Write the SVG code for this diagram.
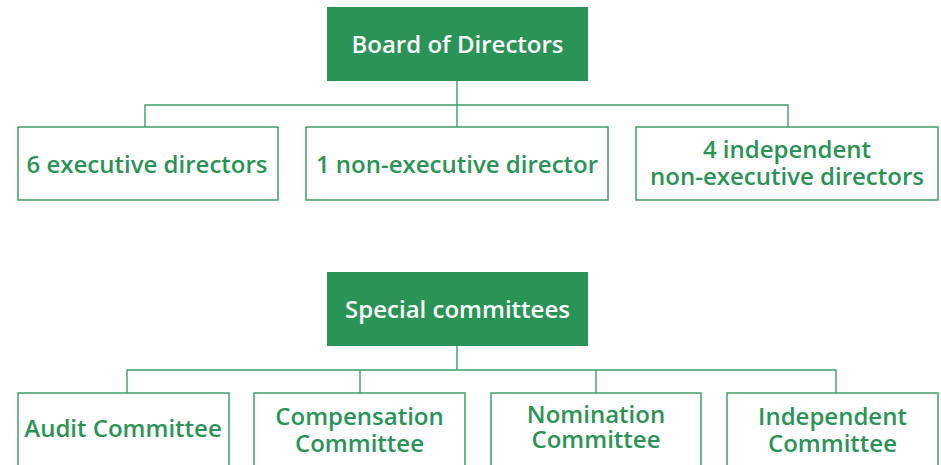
<svg xmlns="http://www.w3.org/2000/svg" width="941" height="465" viewBox="0 0 941 465">
<style>
.head{fill:#2a9456}
.box{fill:#fff;stroke:#3f9e67;stroke-width:1.5}
.ht{fill:#fff;font-family:"Open Sans","Noto Sans",sans-serif;font-size:24px;font-weight:600;text-anchor:middle}
.bt{fill:#2a9456;font-family:"Open Sans","Noto Sans",sans-serif;font-size:24px;font-weight:600;text-anchor:middle}
.con{fill:none;stroke:#3f9e67;stroke-width:1.4}
</style>
<rect width="941" height="465" fill="#fff"/>
<g id="connectors">
<path class="con" d="M457,81 V105 M145,127 V105 H788 V127 M457,105 V127"/>
<path class="con" d="M457,346 V370 M127,393 V370 H836 V393 M360,370 V393 M596,370 V393"/>
</g>
<g id="board"><rect class="head" x="327" y="7" width="261" height="74"/><text class="ht" x="457.5" y="53">Board of Directors</text></g>
<g id="exec"><rect class="box" x="18" y="127" width="260" height="73"/><text class="bt" x="147" y="173">6 executive directors</text></g>
<g id="nonexec"><rect class="box" x="306" y="127" width="302" height="73"/><text class="bt" x="457" y="173">1 non-executive director</text></g>
<g id="indep"><rect class="box" x="636" y="127" width="302" height="73"/><text class="bt" x="787" y="158">4 independent</text><text class="bt" x="787" y="185">non-executive directors</text></g>
<g id="special"><rect class="head" x="327" y="272" width="261" height="74"/><text class="ht" x="457.5" y="318">Special committees</text></g>
<g id="audit"><rect class="box" x="18" y="393" width="211" height="80"/><text class="bt" x="123" y="437">Audit Committee</text></g>
<g id="comp"><rect class="box" x="254" y="393" width="211" height="80"/><text class="bt" x="359.5" y="425">Compensation</text><text class="bt" x="359.5" y="452">Committee</text></g>
<g id="nom"><rect class="box" x="491" y="393" width="210" height="80"/><text class="bt" x="596" y="423">Nomination</text><text class="bt" x="596" y="448">Committee</text></g>
<g id="indc"><rect class="box" x="727" y="393" width="211" height="80"/><text class="bt" x="832.5" y="425">Independent</text><text class="bt" x="832.5" y="452">Committee</text></g>
</svg>
